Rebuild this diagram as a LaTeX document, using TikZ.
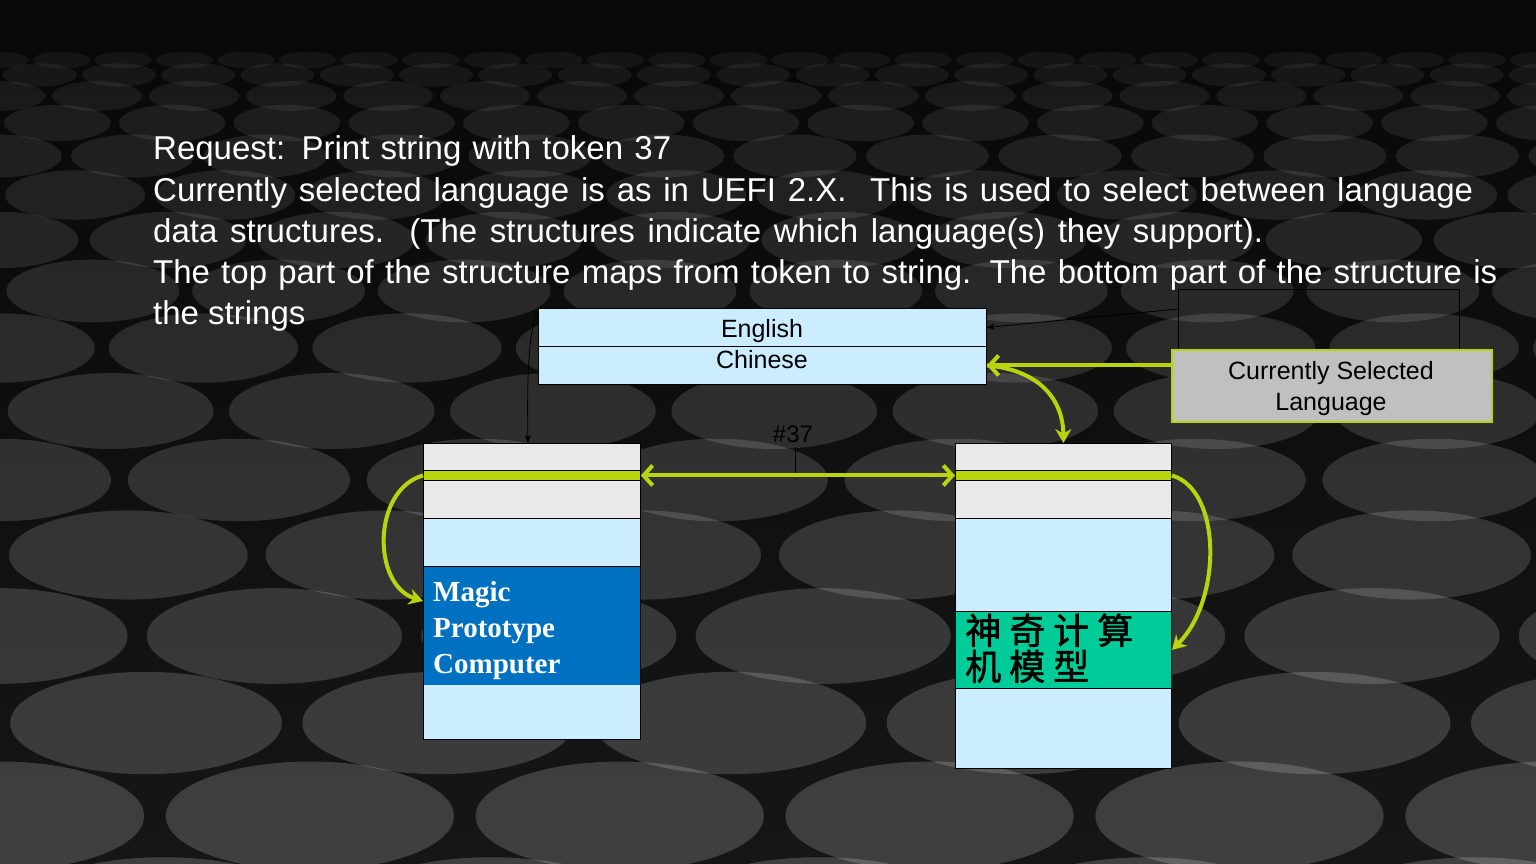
\documentclass[tikz,border=0pt]{standalone}
\usepackage{fontspec}
\setmainfont{Liberation Sans}
\newfontfamily\serifbf{Liberation Serif}
\newfontfamily\cjk[FakeBold=1.5]{Noto Sans CJK SC}
\usetikzlibrary{arrows.meta}
\definecolor{lime}{RGB}{185,212,12}
\definecolor{lblue}{RGB}{204,236,255}
\definecolor{lgray}{RGB}{233,233,233}
\definecolor{dblue}{RGB}{0,112,192}
\definecolor{tealg}{RGB}{0,204,153}
\definecolor{boxgray}{RGB}{192,192,192}
\definecolor{bgtop}{RGB}{8,8,8}
\definecolor{bgmid}{RGB}{24,24,24}
\definecolor{bgbot}{RGB}{22,22,22}
\tikzset{
  cell/.style={draw=black, line width=0.9pt, rectangle, inner sep=0pt, anchor=north west},
  headline/.style={anchor=base west, inner sep=0pt, text=white, font=\fontsize{33}{38}\selectfont},
  magictext/.style={anchor=base west, inner sep=0pt, text=white, font=\serifbf\bfseries\fontsize{29}{36}\selectfont},
  cjktext/.style={anchor=base west, inner sep=0pt, text=black, font=\cjk\fontsize{36}{40}\selectfont},
  celltext/.style={anchor=base, inner sep=0pt, text=black, font=\fontsize{25}{30}\selectfont},
  limearrow/.style={draw=lime, line width=4pt},
  thinline/.style={draw=black, line width=0.8pt},
}
\begin{document}
\begin{tikzpicture}[x=1pt,y=-1pt]
\useasboundingbox (0,0) rectangle (1536,864);
\shade[top color=bgtop, middle color=bgmid, bottom color=bgbot] (0,0) rectangle (1536,864);
% background texture of discs
\begin{scope}
\clip (0,0) rectangle (1536,864);
\foreach \k in {0,...,15} {
  \pgfmathsetmacro\yy{60+12*\k+3.0*\k*\k}
  \pgfmathsetmacro\ry{0.55*(15+6*\k)}
  \pgfmathsetmacro\rx{2.5*\ry+8}
  \pgfmathsetmacro\dx{2.15*\rx}
  \pgfmathsetmacro\off{mod(\k,2)*0.5*\dx}
  \pgfmathsetmacro\op{0.05+0.009*\k}
  \pgfmathtruncatemacro\nn{1536/\dx+2}
  \foreach \i in {0,...,\nn} {
    \fill[white, opacity=\op] ({\i*\dx-\off},\yy) ellipse [x radius=\rx, y radius=\ry];
  }
}
\end{scope}

% heading text
\node[headline] (t1) at (153,160) {\makebox[518pt][s]{Request: Print string with token 37}};
\node[headline] (t2) at (153,201) {\makebox[1320pt][s]{Currently selected language is as in UEFI 2.X.\ \ This is used to select between language}};
\node[headline] (t3) at (153,242) {\makebox[1110pt][s]{data structures.\ \ (The structures indicate which language(s) they support).}};
\node[headline] (t4) at (153,283) {\makebox[1344pt][s]{The top part of the structure maps from token to string. The bottom part of the structure is}};
\node[headline] (t5) at (153,324) {the strings};

% language table
\node[cell, fill=lblue, minimum width=448pt, minimum height=38pt] (eng) at (538,308) {};
\node[cell, fill=lblue, minimum width=448pt, minimum height=38pt] (chi) at (538,346) {};
\node[celltext] (engt) at (762,337) {English};
\node[celltext] (chit) at (762,368) {Chinese};

% currently selected language box
\node[draw=lime, line width=1.5pt, fill=boxgray, rectangle, inner sep=0pt, anchor=north west,
      minimum width=320pt, minimum height=72pt] (cur) at (1171,349) {};
\node[celltext] (curt1) at (1331,379) {Currently Selected};
\node[celltext] (curt2) at (1331,410) {Language};

% left structure
\node[cell, fill=lgray, minimum width=217pt, minimum height=27pt] (L1) at (423,443) {};
\node[cell, fill=lime, minimum width=217pt, minimum height=10pt] (Lband) at (423,470) {};
\node[cell, fill=lgray, minimum width=217pt, minimum height=38pt] (L2) at (423,480) {};
\node[cell, fill=lblue, minimum width=217pt, minimum height=48pt] (L3) at (423,518) {};
\node[cell, draw=none, fill=dblue, minimum width=217pt, minimum height=119pt] (Lmagic) at (423,566) {};
\node[cell, draw=none, fill=lblue, minimum width=217pt, minimum height=54pt] (L4) at (423,685) {};
\draw[thinline, line width=0.9pt] (L3.south west) rectangle (L4.south east);
\node[magictext] (m1) at (433,601) {Magic};
\node[magictext] (m2) at (433,637) {Prototype};
\node[magictext] (m3) at (433,673) {Computer};

% right structure
\node[cell, fill=lgray, minimum width=216pt, minimum height=27pt] (R1) at (955,443) {};
\node[cell, fill=lime, minimum width=216pt, minimum height=10pt] (Rband) at (955,470) {};
\node[cell, fill=lgray, minimum width=216pt, minimum height=38pt] (R2) at (955,480) {};
\node[cell, fill=lblue, minimum width=216pt, minimum height=93pt] (R3) at (955,518) {};
\node[cell, fill=tealg, minimum width=216pt, minimum height=77pt] (Rteal) at (955,611) {};
\node[cell, fill=lblue, minimum width=216pt, minimum height=80pt] (R4) at (955,688) {};
\node[cjktext] (c1) at (965,644) {神\hspace{8pt}奇\hspace{8pt}计\hspace{8pt}算};
\node[cjktext] (c2) at (965,680) {机\hspace{8pt}模\hspace{8pt}型};

% token label
\node[anchor=base, inner sep=0pt, text=black, font=\fontsize{24}{28}\selectfont] (tok) at (793,442) {\#37};
\coordinate (tokfoot) at (795,447);
\coordinate (tokline) at (795,473);
\draw[thinline] (tokfoot) -- (tokline);

% lime connectors
\draw[limearrow, {Straight Barb[length=9pt,width=20pt]}-{Straight Barb[length=9pt,width=20pt]}] (Lband.east) -- (Rband.west);
\draw[limearrow, -{Straight Barb[length=9pt,width=20pt]}] (cur.west |- chi.east) -- (chi.east);
\draw[limearrow, -{Stealth[length=14pt,width=16pt]}] (chi.east) .. controls (1040,370) and (1063,400) .. (R1.north);
\draw[limearrow, -{Stealth[length=14pt,width=16pt]}] (Lband.west) .. controls (372,490) and (372,585) .. ([yshift=25pt]Lmagic.west);
\draw[limearrow, -{Stealth[length=14pt,width=16pt]}] (Rband.east) .. controls (1222,490) and (1222,600) .. (Rteal.east);

% thin black connectors
\coordinate (bl) at (1178,349);
\coordinate (btl) at (1178,289);
\coordinate (btr) at (1459,289);
\coordinate (br) at (1459,349);
\coordinate (bmid) at (1178,309);
\draw[thinline] (bl) -- (btl) -- (btr) -- (br);
\draw[thinline, -{Stealth[length=8pt,width=6pt]}] (bmid) -- (eng.east);
\coordinate (engfoot) at (538,312);
\draw[thinline, -{Stealth[length=8pt,width=6pt]}] (engfoot) .. controls (528,330) and (527,380) .. ([xshift=-4pt]L1.north);
\end{tikzpicture}
\end{document}
